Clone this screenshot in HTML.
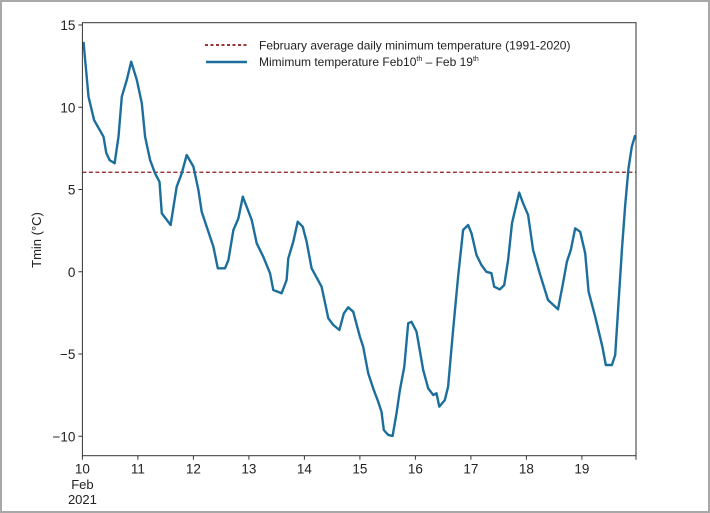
<!DOCTYPE html>
<html><head><meta charset="utf-8"><style>
html,body{margin:0;padding:0;background:#fff;}
svg text{font-family:"Liberation Sans","DejaVu Sans",sans-serif;fill:#222;}
</style></head><body>
<svg id="chart" width="710" height="513" viewBox="0 0 710 513" xmlns="http://www.w3.org/2000/svg" style="position:absolute;left:0;top:0">
<rect x="1" y="1" width="708" height="511" fill="#fff" stroke="#a8a8a8" stroke-width="2"/>
<g id="plot"></g>
<text x="82.4" y="489" text-anchor="middle" font-size="13">Feb</text>
<text x="82.4" y="504" text-anchor="middle" font-size="13">2021</text>
<text transform="translate(41,240) rotate(-90)" text-anchor="middle" font-size="13">Tmin (°C)</text>
<g>
<line x1="205" x2="247" y1="45" y2="45" stroke="#8b1a1a" stroke-width="1.8" stroke-dasharray="3,2.5"/>
<text x="259" y="49.5" font-size="12">February average daily minimum temperature (1991-2020)</text>
<line x1="206" x2="247" y1="62" y2="62" stroke="#1c6f9c" stroke-width="2.4"/>
<text x="259" y="66" font-size="12">Mimimum temperature Feb10<tspan font-size="7" dy="-5">th</tspan><tspan dy="5"> – Feb 19</tspan><tspan font-size="7" dy="-5">th</tspan></text>
</g>
</svg>
<script>
const days=[10.02,10.11,10.21,10.38,10.43,10.49,10.58,10.65,10.71,10.80,10.88,10.98,11.07,11.13,11.22,11.31,11.39,11.43,11.52,11.59,11.70,11.79,11.88,12.00,12.09,12.15,12.24,12.36,12.44,12.57,12.63,12.72,12.81,12.89,12.96,13.05,13.14,13.26,13.38,13.44,13.59,13.68,13.71,13.80,13.88,13.97,14.04,14.13,14.31,14.43,14.52,14.63,14.71,14.79,14.88,15.00,15.06,15.15,15.24,15.33,15.39,15.43,15.51,15.59,15.66,15.72,15.80,15.87,15.93,16.02,16.14,16.23,16.32,16.38,16.43,16.53,16.59,16.68,16.77,16.86,16.95,17.01,17.10,17.19,17.28,17.37,17.42,17.52,17.60,17.67,17.74,17.79,17.87,17.94,18.03,18.12,18.24,18.39,18.57,18.66,18.73,18.80,18.88,18.97,19.06,19.12,19.24,19.37,19.43,19.54,19.60,19.72,19.78,19.84,19.90,19.96];
const tmin=[13.98,10.64,9.22,8.21,7.22,6.79,6.59,8.21,10.64,11.66,12.77,11.66,10.24,8.21,6.79,5.98,5.47,3.55,3.15,2.84,5.17,5.98,7.10,6.39,4.97,3.65,2.74,1.52,0.21,0.21,0.71,2.54,3.25,4.56,3.95,3.15,1.73,0.91,-0.09,-1.11,-1.31,-0.50,0.82,1.83,3.04,2.74,1.83,0.21,-0.91,-2.83,-3.24,-3.54,-2.53,-2.16,-2.43,-3.95,-4.56,-6.17,-7.09,-7.90,-8.51,-9.62,-9.92,-9.98,-8.61,-7.19,-5.77,-3.13,-3.04,-3.64,-5.97,-7.09,-7.49,-7.39,-8.20,-7.80,-6.99,-3.54,-0.30,2.54,2.84,2.34,1.02,0.41,0.00,-0.09,-0.91,-1.07,-0.81,0.71,2.95,3.65,4.81,4.16,3.45,1.32,-0.09,-1.72,-2.28,-0.70,0.61,1.32,2.64,2.43,1.12,-1.21,-2.73,-4.56,-5.67,-5.67,-5.06,1.32,4.06,6.29,7.60,8.31];
const averageMin=[6.05];
const yTicks=[15,10,5,0,-5,-10];
const yTickLabels=["15","10","5","0","\u22125","\u221210"];
const xTicks=[10,11,12,13,14,15,16,17,18,19];
const xTickLabels=["10","11","12","13","14","15","16","17","18","19"];

const X0=82.4,PX=55.5,Y0=25,PY=16.45;
const xs=d=>X0+(d-10)*PX;
const ys=v=>Y0+(15-v)*PY;
const NS="http://www.w3.org/2000/svg";
const plotG=document.getElementById('plot');
function mk(tag,attrs){const e=document.createElementNS(NS,tag);for(const k in attrs)e.setAttribute(k,attrs[k]);plotG.appendChild(e);return e;}
const leftX=82.4,rightX=636,topY=22.7,bottomY=455.7;

const avg=mk('line',{x1:leftX,x2:rightX,y1:ys(averageMin[0]),y2:ys(averageMin[0]),stroke:'#8b1a1a','stroke-width':1.2,'stroke-dasharray':'4,2.5'});



let pd='';
days.forEach((t,i)=>{pd+=(i?'L':'M')+xs(t).toFixed(1)+','+ys(tmin[i]).toFixed(1);});
const ln=mk('path',{d:pd,fill:'none',stroke:'#1c6f9c','stroke-width':2.4,'stroke-linejoin':'round'});



const box=mk('rect',{x:leftX,y:topY,width:rightX-leftX,height:bottomY-topY,fill:'none',stroke:'#333','stroke-width':1});



yTicks.forEach((v,i)=>{
  mk('line',{x1:leftX-4,x2:leftX,y1:ys(v),y2:ys(v),stroke:'#333'});
  const t=mk('text',{x:leftX-7,y:ys(v)+5,'text-anchor':'end','font-size':13.5});
  t.textContent=yTickLabels[i];
  
  
});
xTicks.forEach((v,i)=>{
  mk('line',{x1:xs(v),x2:xs(v),y1:bottomY,y2:bottomY+4,stroke:'#333'});
  const t=mk('text',{x:xs(v),y:bottomY+18,'text-anchor':'middle','font-size':13.5});
  t.textContent=xTickLabels[i];
  
  
});
mk('line',{x1:rightX,x2:rightX,y1:bottomY,y2:bottomY+4,stroke:'#333'});
</script>
</body></html>
